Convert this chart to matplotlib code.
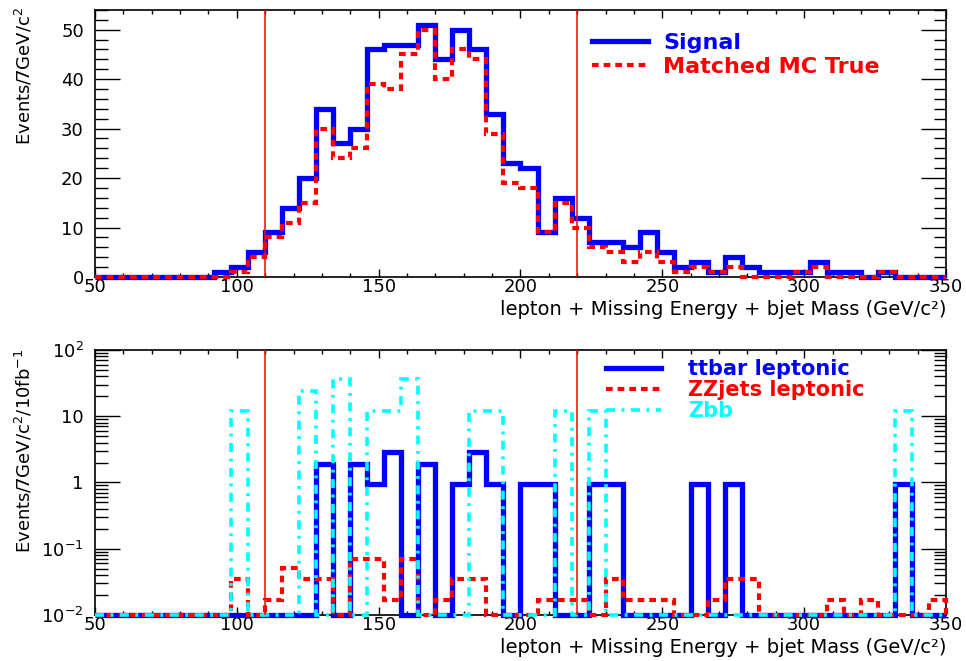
import numpy as np
import matplotlib.pyplot as plt
from matplotlib.ticker import MultipleLocator, FixedLocator, FixedFormatter, NullFormatter

plt.rcParams['font.family'] = ['DejaVu Sans']
plt.rcParams['mathtext.default'] = 'regular'

# 50 bins of 6 GeV from 50 to 350
edges = np.arange(50, 351, 6)

signal = [0, 0, 0, 0, 0, 0, 0, 1, 2, 5,
          9, 14, 20, 34, 27, 30, 46, 47, 47, 51,
          44, 50, 46, 33, 23, 22, 9, 16, 12, 7,
          7, 6, 9, 5, 2, 3, 1, 4, 2, 1,
          1, 1, 3, 1, 1, 0, 1, 0, 0, 0]
matched = [0, 0, 0, 0, 0, 0, 0, 0, 1, 4,
           8, 11, 15, 30, 24, 26, 39, 38, 45, 50,
           40, 46, 44, 29, 19, 18, 9, 15, 10, 6,
           5, 3, 5, 3, 1, 2, 1, 2, 0, 0,
           0, 1, 2, 0, 0, 0, 1, 0, 0, 0]

ttbar = [0, 0, 0, 0, 0, 0, 0, 0, 0, 0,
         0, 0, 0, 1.9, 0, 1.9, 0.95, 2.85, 0, 1.9,
         0, 0.95, 2.85, 0.95, 0, 0.95, 0.95, 0, 0, 0.95,
         0.95, 0, 0, 0, 0, 0.95, 0, 0.95, 0, 0,
         0, 0, 0, 0, 0, 0, 0, 0.95, 0, 0]
zzjets = [0, 0, 0, 0, 0, 0, 0, 0, 0.035, 0,
          0.017, 0.052, 0.035, 0.035, 0, 0.069, 0.069, 0.017, 0.069, 0,
          0.017, 0.035, 0.035, 0, 0, 0, 0.017, 0.017, 0.017, 0,
          0.035, 0.017, 0.017, 0.017, 0, 0, 0.017, 0.035, 0.035, 0,
          0, 0, 0, 0.017, 0, 0.017, 0, 0, 0, 0.017]
zbb = [0, 0, 0, 0, 0, 0, 0, 0, 12.1, 0,
       0, 0, 24.2, 0, 36.3, 0, 12.1, 12.1, 36.3, 0,
       0, 0, 12.1, 12.1, 0, 0, 0, 12.1, 0, 12.1,
       0, 0, 0, 0, 0, 0, 0, 0, 0, 0,
       0, 0, 0, 0, 0, 0, 0, 12.1, 0, 0]

cuts = [110, 220]
xtitle = 'lepton + Missing Energy + bjet Mass (GeV/c²)'

fig = plt.figure(figsize=(9.66, 6.61), dpi=100)
ax1 = fig.add_axes([0.0983, 0.581, 0.881, 0.404])
ax2 = fig.add_axes([0.0983, 0.0696, 0.881, 0.401])

blue = '#0000ff'
red = '#ff0000'
cyan = '#00ffff'


def style_axis(ax):
    ax.set_xlim(50, 350)
    ax.xaxis.set_major_locator(MultipleLocator(50))
    ax.xaxis.set_minor_locator(MultipleLocator(10))
    ax.tick_params(which='both', direction='in', top=True, right=True, labelsize=13, width=1)
    ax.tick_params(axis='x', which='major', length=6, pad=1)
    ax.tick_params(axis='x', which='minor', length=3)
    ax.tick_params(axis='y', which='major', length=18, pad=8)
    ax.tick_params(axis='y', which='minor', length=9)
    for s in ax.spines.values():
        s.set_linewidth(1.2)
    for c in cuts:
        ax.axvline(c, color=red, lw=1.1, zorder=5)
    ax.set_xlabel(xtitle, fontsize=14, loc='right')
    ax.xaxis.set_label_coords(1.0, -0.087)


# top panel: signal vs matched
ax1.stairs(signal, edges, color=blue, lw=3.8, label='Signal', clip_on=False, zorder=3)
ax1.stairs(matched, edges, color=red, lw=3, linestyle=(0, (1.6, 1.2)),
           label='Matched MC True', clip_on=False, zorder=4)
ax1.set_ylim(0, 54)
ax1.yaxis.set_major_locator(MultipleLocator(10))
ax1.yaxis.set_minor_locator(MultipleLocator(2))
style_axis(ax1)
ax1.set_ylabel('Events/7GeV/c$^{2}$', family=['Liberation Sans Narrow', 'DejaVu Sans'],
               fontsize=13, loc='top')
ax1.yaxis.set_label_coords(-0.071, 1.01)
leg1 = ax1.legend(loc='upper left', bbox_to_anchor=(0.584, 0.915), frameon=False,
                  handlelength=2.5, handletextpad=0.7, labelspacing=0.2,
                  borderpad=0, borderaxespad=0, prop={'weight': 'bold', 'size': 16})
for t, c in zip(leg1.get_texts(), [blue, red]):
    t.set_color(c)

# bottom panel: backgrounds, log scale, empty bins drawn on the frame
ymin = 0.01
ax2.set_yscale('log')
ax2.stairs(np.maximum(ttbar, ymin), edges, baseline=ymin, color=blue, lw=3.8,
           label='ttbar leptonic', clip_on=False, zorder=3)
ax2.stairs(np.maximum(zzjets, ymin), edges, baseline=ymin, color=red, lw=3,
           linestyle=(0, (1.6, 1.2)), label='ZZjets leptonic', clip_on=False, zorder=4)
ax2.stairs(np.maximum(zbb, ymin), edges, baseline=ymin, color=cyan, lw=2.6,
           linestyle=(0, (2.5, 1.8, 0.8, 1.8)), label='Zbb', clip_on=False, zorder=4.5)
ax2.set_ylim(ymin, 100)
ax2.yaxis.set_major_locator(FixedLocator([0.01, 0.1, 1, 10, 100]))
ax2.yaxis.set_major_formatter(FixedFormatter(['$10^{-2}$', '$10^{-1}$', '1', '10', '$10^{2}$']))
ax2.yaxis.set_minor_locator(FixedLocator([m * 10.0 ** d for d in range(-2, 2) for m in range(2, 10)]))
ax2.yaxis.set_minor_formatter(NullFormatter())
style_axis(ax2)
ax2.set_ylabel('Events/7GeV/c$^{2}$/10fb$^{-1}$', family=['Liberation Sans Narrow', 'DejaVu Sans'],
               fontsize=13, loc='top')
ax2.yaxis.set_label_coords(-0.071, 1.005)
leg2 = ax2.legend(loc='upper left', bbox_to_anchor=(0.6, 0.965), frameon=False,
                  handlelength=2.65, handletextpad=1.3, labelspacing=0.05,
                  borderpad=0, borderaxespad=0, prop={'weight': 'bold', 'size': 15})
for t, c in zip(leg2.get_texts(), [blue, red, cyan]):
    t.set_color(c)

fig.savefig('out.png', dpi=100)
